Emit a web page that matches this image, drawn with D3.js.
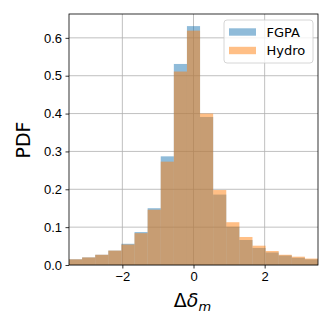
<!DOCTYPE html>
<html>
<head>
<meta charset="UTF-8">
<script src="https://cdnjs.cloudflare.com/ajax/libs/d3/7.8.5/d3.min.js"></script>
<style>
    body { margin: 0; background: #fff; }
    svg { font-family: "DejaVu Sans", sans-serif; }
    .axis text { font-size: 13px; fill: #000; }
    .axis line, .axis path { stroke: #000; stroke-width: 0.8; }
    .grid line { stroke: #b0b0b0; stroke-width: 0.8; }
</style>
</head>
<body>
<script>
    // histogram: 19 bins over [-3.5, 3.5]
    const binLo = -3.5;
    const binHi = 3.5;
    const fgpa = [0.015, 0.020, 0.027, 0.038, 0.056, 0.087, 0.150, 0.287, 0.531, 0.631,
                  0.391, 0.186, 0.101, 0.066, 0.045, 0.033, 0.025, 0.019, 0.015];
    const hydro = [0.015, 0.020, 0.027, 0.038, 0.054, 0.084, 0.146, 0.273, 0.511, 0.619,
                   0.400, 0.198, 0.113, 0.074, 0.051, 0.037, 0.027, 0.022, 0.017];
    const seriesNames = ['FGPA', 'Hydro'];
    const xTicks = [-2, 0, 2];
    const yTicks = [0.0, 0.1, 0.2, 0.3, 0.4, 0.5, 0.6];

    const width = 332;
    const height = 332;
    const marginLeft = 69;
    const marginRight = 14;
    const marginTop = 14;
    const marginBottom = 67;
    const colors = ['#1f77b4', '#ff7f0e'];

    const svg = d3.select('body').append('svg')
        .attr('width', width)
        .attr('height', height);

    const x = d3.scaleLinear()
        .domain([binLo, binHi])
        .range([marginLeft, width - marginRight]);

    const y = d3.scaleLinear()
        .domain([0, 0.663])
        .range([height - marginBottom, marginTop]);

    // сетка
    const grid = svg.append('g').attr('class', 'grid');
    grid.selectAll('.gx').data(xTicks).enter().append('line')
        .attr('x1', d => x(d)).attr('x2', d => x(d))
        .attr('y1', marginTop).attr('y2', height - marginBottom);
    grid.selectAll('.gy').data(yTicks).enter().append('line')
        .attr('x1', marginLeft).attr('x2', width - marginRight)
        .attr('y1', d => y(d)).attr('y2', d => y(d));

    // бары
    const nBins = fgpa.length;
    const step = (binHi - binLo) / nBins;
    [fgpa, hydro].forEach(function(values, s) {
        svg.append('g').selectAll('rect')
            .data(values)
            .enter()
            .append('rect')
            .attr('x', (d, i) => x(binLo + i * step))
            .attr('width', (d, i) => x(binLo + (i + 1) * step) - x(binLo + i * step))
            .attr('y', d => y(d))
            .attr('height', d => y(0) - y(d))
            .attr('fill', colors[s])
            .attr('fill-opacity', 0.5);
    });

    // оси
    svg.append('g')
        .attr('class', 'axis')
        .attr('transform', 'translate(0,' + (height - marginBottom) + ')')
        .call(d3.axisBottom(x).tickValues(xTicks).tickSize(3.5).tickPadding(3.5)
            .tickFormat(d => d < 0 ? '\u2212' + Math.abs(d) : d))
        .call(g => g.select('.domain').remove());

    svg.append('g')
        .attr('class', 'axis')
        .attr('transform', 'translate(' + marginLeft + ',0)')
        .call(d3.axisLeft(y).tickValues(yTicks).tickSize(3.5).tickPadding(3.5)
            .tickFormat(d3.format('.1f')))
        .call(g => g.select('.domain').remove());

    // рамка
    svg.append('rect')
        .attr('x', marginLeft).attr('y', marginTop)
        .attr('width', width - marginLeft - marginRight)
        .attr('height', height - marginTop - marginBottom)
        .attr('fill', 'none')
        .attr('stroke', '#000')
        .attr('stroke-width', 0.8);

    // подписи осей
    svg.append('text')
        .attr('transform', 'translate(30,140) rotate(-90)')
        .attr('text-anchor', 'middle')
        .style('font-size', '19px')
        .text('PDF');

    const xl = svg.append('text')
        .attr('x', 192.5).attr('y', 306.5)
        .attr('text-anchor', 'middle')
        .style('font-size', '19px');
    xl.append('tspan').text('\u0394');
    xl.append('tspan').style('font-style', 'italic').text('\u03b4');
    xl.append('tspan').style('font-style', 'italic').style('font-size', '13px')
        .attr('dy', 4).text('m');

    // легенда
    const legend = svg.append('g');
    legend.append('rect')
        .attr('x', 224).attr('y', 20)
        .attr('width', 89).attr('height', 43)
        .attr('rx', 3)
        .attr('fill', '#fff').attr('fill-opacity', 0.8)
        .attr('stroke', '#cccccc').attr('stroke-width', 0.8);
    seriesNames.forEach(function(name, i) {
        const cy = 32 + i * 18.5;
        legend.append('rect')
            .attr('x', 229).attr('y', cy - 3.7)
            .attr('width', 27).attr('height', 7.4)
            .attr('fill', colors[i]).attr('fill-opacity', 0.5);
        legend.append('text')
            .attr('x', 266.5).attr('y', cy + 4.7)
            .style('font-size', '13px')
            .text(name);
    });
</script>
</body>
</html>
